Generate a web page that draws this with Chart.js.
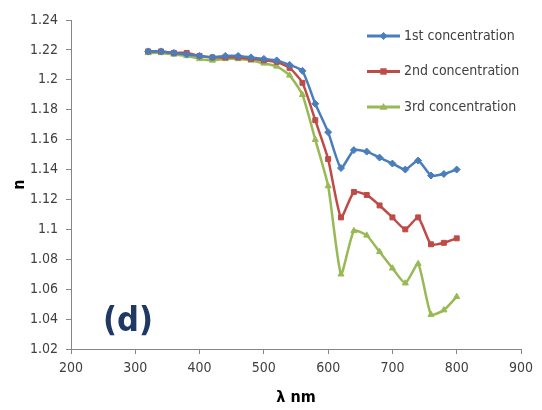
<!DOCTYPE html>
<html>
<head>
<meta charset="utf-8">
<script src="https://cdn.jsdelivr.net/npm/chart.js@4.4.1/dist/chart.umd.min.js"></script>
<style>
    body { margin: 0; background: #fff; }
</style>
</head>
<body>
<canvas id="chart" width="542" height="410"></canvas>
<script>
var wavelengths = [320, 340, 360, 380, 400, 420, 440, 460, 480, 500, 520, 540, 560,
    580, 600, 620, 640, 660, 680, 700, 720, 740, 760, 780, 800];

var conc1 = [1.219, 1.219, 1.218, 1.217, 1.216, 1.215, 1.216, 1.216, 1.215, 1.214, 1.213, 1.210, 1.206,
    1.184, 1.165, 1.141, 1.153, 1.152, 1.148, 1.144, 1.140, 1.146, 1.136, 1.137, 1.140];

var conc2 = [1.219, 1.219, 1.218, 1.218, 1.216, 1.215, 1.215, 1.215, 1.214, 1.213, 1.212, 1.208, 1.198,
    1.173, 1.147, 1.108, 1.125, 1.123, 1.116, 1.108, 1.100, 1.108, 1.090, 1.091, 1.094];

var conc3 = [1.218, 1.218, 1.217, 1.216, 1.214, 1.213, 1.214, 1.214, 1.213, 1.211, 1.209, 1.203, 1.190,
    1.160, 1.129, 1.070, 1.099, 1.096, 1.085, 1.074, 1.064, 1.077, 1.043, 1.046, 1.055];

var seriesNames = ['1st concentration', '2nd concentration', '3rd concentration'];
var xTicks = { min: 200, max: 900, step: 100 };
var yTicks = { min: 1.02, max: 1.24, step: 0.02 };

var FONT = "'Liberation Sans Narrow', 'DejaVu Sans Condensed', 'Open Sans', sans-serif";

function points(values) {
    return wavelengths.map(function(w, i) {
        return { x: w, y: values[i] };
    });
}

function makeDataset(label, values, color, style, radius) {
    return {
        label: label,
        data: points(values),
        borderColor: color,
        backgroundColor: color,
        pointBackgroundColor: color,
        pointBorderColor: color,
        pointStyle: style,
        pointRadius: radius,
        pointBorderWidth: 1,
        borderWidth: 2.5,
        tension: 0.18,
        fill: false
    };
}

function drawMarker(ctx, style, x, y, r, color) {
    ctx.fillStyle = color;
    ctx.beginPath();
    if (style === 'rectRot') {
        ctx.moveTo(x, y - r);
        ctx.lineTo(x + r, y);
        ctx.lineTo(x, y + r);
        ctx.lineTo(x - r, y);
    } else if (style === 'rect') {
        ctx.rect(x - r * 0.8, y - r * 0.8, r * 1.6, r * 1.6);
    } else {
        ctx.moveTo(x, y - r);
        ctx.lineTo(x + r, y + r * 0.7);
        ctx.lineTo(x - r, y + r * 0.7);
    }
    ctx.closePath();
    ctx.fill();
}

var extrasPlugin = {
    id: 'extras',
    afterDraw: function(chart) {
        var ctx = chart.ctx;
        ctx.save();

        // legend: line + marker, like the spreadsheet one
        chart.data.datasets.forEach(function(ds, i) {
            var y = 36 + i * 35.5;
            ctx.strokeStyle = ds.borderColor;
            ctx.lineWidth = 3;
            ctx.beginPath();
            ctx.moveTo(367, y);
            ctx.lineTo(400, y);
            ctx.stroke();
            drawMarker(ctx, ds.pointStyle, 383.5, y, 4, ds.borderColor);

            ctx.fillStyle = '#404040';
            ctx.font = '14px ' + FONT;
            ctx.textAlign = 'left';
            ctx.textBaseline = 'middle';
            ctx.fillText(ds.label, 404, y);
        });

        // panel label
        ctx.fillStyle = '#1F3864';
        ctx.font = 'bold 34px ' + FONT;
        ctx.textAlign = 'left';
        ctx.textBaseline = 'middle';
        ctx.fillText('(d)', 103, 322);

        ctx.restore();
    }
};

var ctx = document.getElementById('chart').getContext('2d');

new Chart(ctx, {
    type: 'line',
    data: {
        datasets: [
            makeDataset(seriesNames[0], conc1, '#4A7EBB', 'rectRot', 3.5),
            makeDataset(seriesNames[1], conc2, '#BE4B48', 'rect', 3.5),
            makeDataset(seriesNames[2], conc3, '#98B954', 'triangle', 3.5)
        ]
    },
    options: {
        responsive: false,
        animation: false,
        layout: {
            padding: { top: 20, right: 21, bottom: 0, left: 0 }
        },
        plugins: {
            legend: { display: false },
            tooltip: { enabled: false }
        },
        scales: {
            x: {
                type: 'linear',
                min: xTicks.min,
                max: xTicks.max,
                afterFit: function(scale) { scale.height = 61; },
                ticks: {
                    stepSize: xTicks.step,
                    color: '#404040',
                    padding: 6,
                    maxRotation: 0,
                    font: { family: FONT, size: 14 }
                },
                grid: {
                    drawOnChartArea: false,
                    drawTicks: true,
                    tickLength: 5,
                    color: '#868686'
                },
                border: { color: '#868686', width: 1 },
                title: {
                    display: true,
                    text: 'λ nm',
                    color: '#000',
                    padding: { top: 0, bottom: 3 },
                    font: { family: FONT, size: 16, weight: 'bold' }
                }
            },
            y: {
                min: yTicks.min,
                max: yTicks.max,
                afterFit: function(scale) { scale.width = 71; },
                ticks: {
                    stepSize: yTicks.step,
                    color: '#404040',
                    padding: 8,
                    font: { family: FONT, size: 14 },
                    callback: function(v) {
                        return parseFloat(v.toFixed(2)).toString();
                    }
                },
                grid: {
                    drawOnChartArea: false,
                    drawTicks: true,
                    tickLength: 5,
                    color: '#868686'
                },
                border: { color: '#868686', width: 1 },
                title: {
                    display: true,
                    text: 'n',
                    color: '#000',
                    padding: { top: 10, bottom: 0 },
                    font: { family: FONT, size: 16, weight: 'bold' }
                }
            }
        }
    },
    plugins: [extrasPlugin]
});
</script>
</body>
</html>
